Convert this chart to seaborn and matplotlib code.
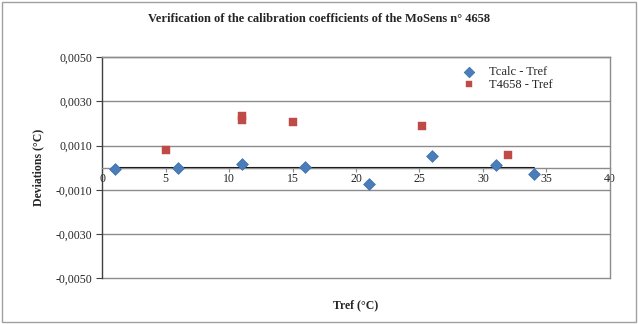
import numpy as np
import pandas as pd
import matplotlib
matplotlib.use("Agg")
import matplotlib.pyplot as plt
import seaborn as sns
from matplotlib.patches import Rectangle
from matplotlib.ticker import FuncFormatter

# Données
tref_calc = [1, 6, 11, 16, 21, 26, 31, 34]
dev_calc = [-0.00006, -0.00003, 0.00017, 0.00003, -0.00074, 0.00051, 0.00012, -0.00027]

tref_4658 = [5, 11, 11, 15, 25.2, 32]
dev_4658 = [0.00082, 0.00233, 0.00215, 0.00208, 0.0019, 0.00059]

serie_calc = "Tcalc - Tref"
serie_4658 = "T4658 - Tref"

df_calc = pd.DataFrame({"tref": tref_calc, "dev": dev_calc})
df_4658 = pd.DataFrame({"tref": tref_4658, "dev": dev_4658})

sns.set_style("white")
plt.rcParams["font.family"] = ["Liberation Serif", "DejaVu Serif"]

fig = plt.figure(figsize=(6.38, 3.24), dpi=100)
ax = fig.add_axes([0.16, 0.142, 0.796, 0.681])

# ligne zéro
ax.plot([min(tref_calc), max(tref_calc)], [0, 0], color="black", lw=1.5, zorder=2)

sns.scatterplot(data=df_calc, x="tref", y="dev", marker="D", s=36,
                color="#4A7EBB", edgecolor="#3D6DA8", linewidth=0.5,
                label=serie_calc, ax=ax, zorder=3)
sns.scatterplot(data=df_4658, x="tref", y="dev", marker="s", s=26,
                color="#BE4B48", edgecolor="#BE4B48", linewidth=0.3,
                label=serie_4658, ax=ax, zorder=3)

ax.set_xlim(0, 40)
ax.set_ylim(-0.005, 0.005)
yticks = np.arange(-0.005, 0.0051, 0.002)
ax.set_yticks(yticks)
ax.set_xticks(range(0, 41, 5))
ax.yaxis.set_major_formatter(FuncFormatter(lambda v, p: f"{v:.4f}".replace(".", ",")))

for y in yticks:
    ax.axhline(y, color="#8c8c8c", lw=1, zorder=1, clip_on=False)

ax.spines["bottom"].set_position(("data", 0))
ax.spines["bottom"].set_color("#8c8c8c")
ax.spines["left"].set_color("#404040")
ax.spines["right"].set_color("#8c8c8c")
ax.spines["top"].set_color("#8c8c8c")
for s in ax.spines.values():
    s.set_linewidth(1)

ax.tick_params(axis="x", direction="out", length=3, width=0.8, color="#8c8c8c",
               labelsize=8.5, pad=1)
ax.tick_params(axis="y", direction="out", length=4, width=0.8, color="#404040",
               labelsize=8.5, pad=3)
ax.xaxis.set_ticks_position("bottom")
ax.yaxis.set_ticks_position("left")

ax.set_xlabel("")
ax.set_ylabel("Deviations (°C)", fontsize=8.5, fontweight="bold", labelpad=8)
fig.text(0.558, 0.058, "Tref (°C)", ha="center", va="center",
         fontsize=8.5, fontweight="bold")
fig.text(0.5, 0.94, "Verification of the calibration coefficients of the MoSens n° 4658",
         ha="center", va="center", fontsize=9, fontweight="bold")

leg = ax.legend(loc="upper left", bbox_to_anchor=(0.68, 1.0), frameon=False,
                fontsize=9, handletextpad=0.6, labelspacing=0.05, borderpad=0.2,
                markerscale=0.9)

fig.patches.append(Rectangle((0.003, 0.005), 0.994, 0.99, transform=fig.transFigure,
                             fill=False, edgecolor="#a0a0a0", lw=1))

fig.savefig("out.png", dpi=100)
